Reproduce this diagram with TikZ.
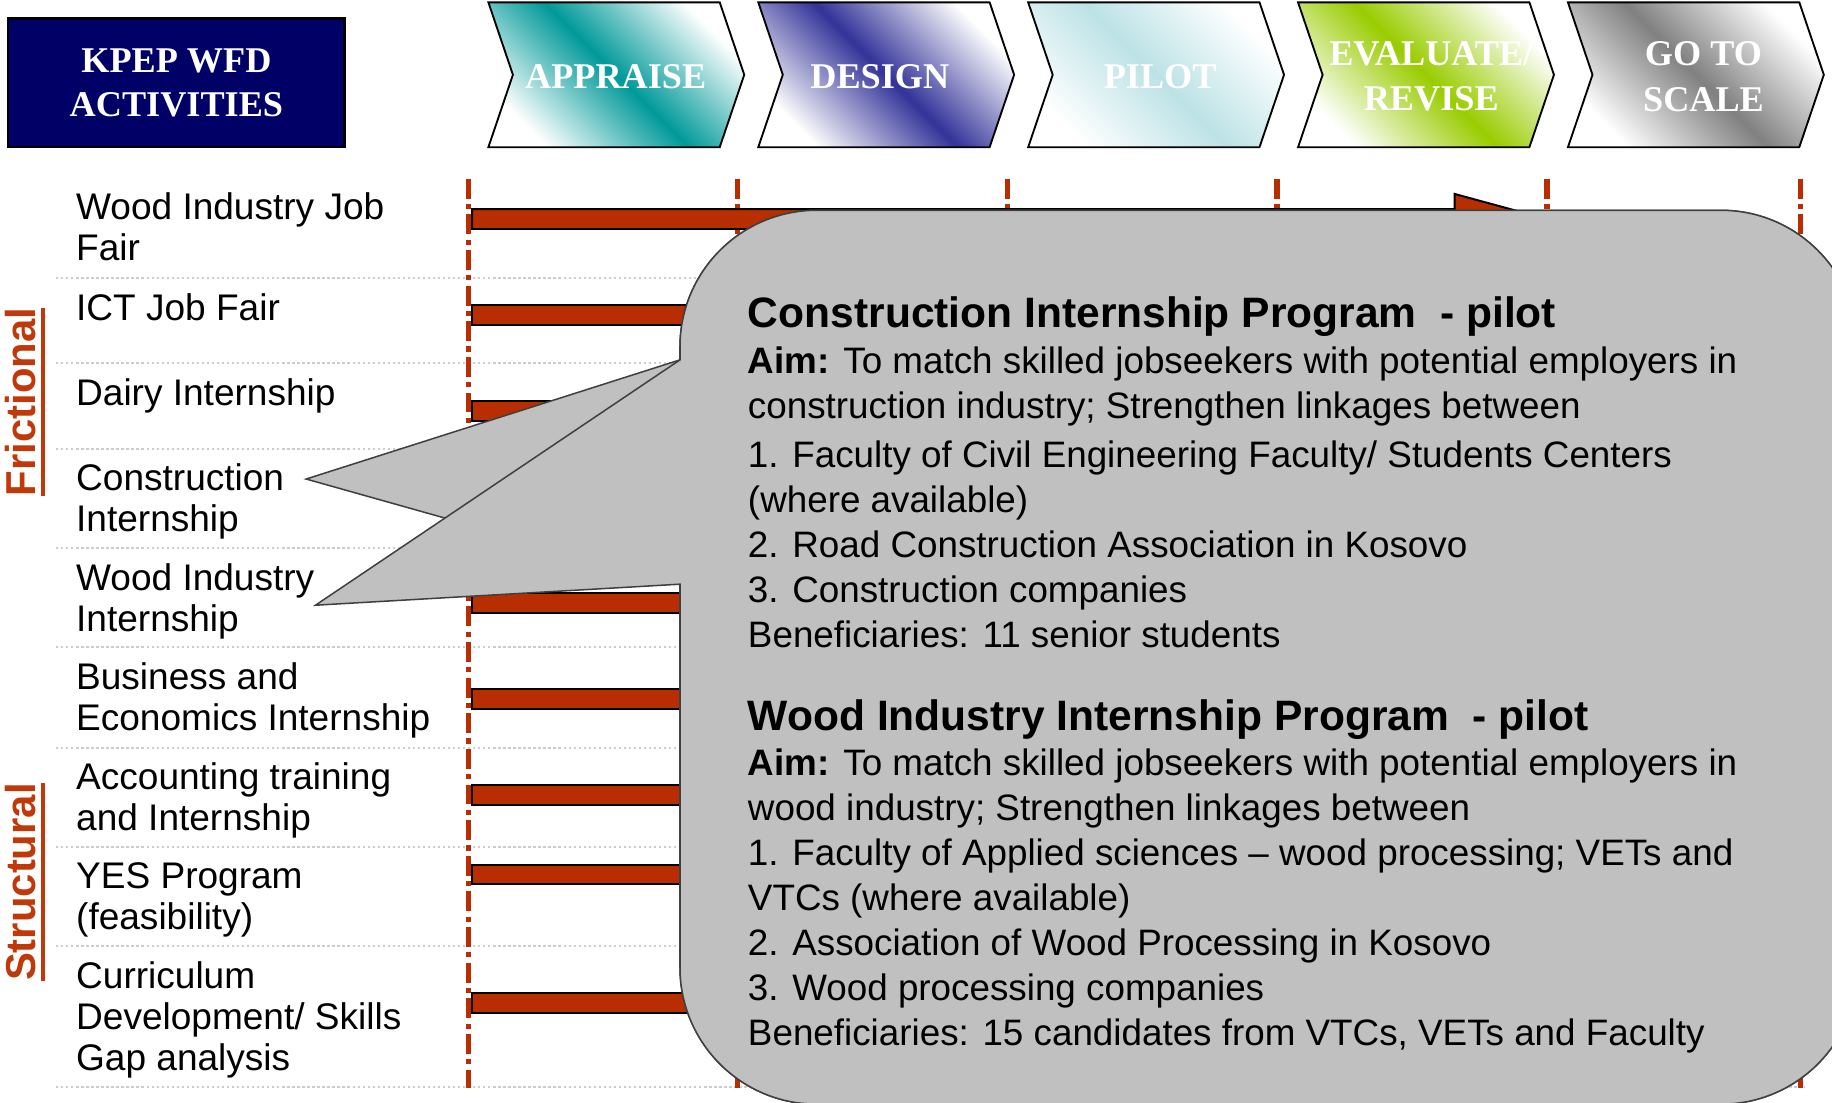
\documentclass[tikz,border=0pt]{standalone}
\usepackage{fontspec}
\setmainfont{Liberation Sans}
\newfontfamily\chevfont{Liberation Serif}
\usetikzlibrary{arrows}

\definecolor{kpepnavy}{RGB}{0,0,102}
\definecolor{barred}{RGB}{185,46,0}
\definecolor{fricred}{RGB}{191,57,10}
\definecolor{calloutgray}{RGB}{192,192,192}
\definecolor{calloutline}{RGB}{64,64,64}
\definecolor{sepgray}{RGB}{205,205,205}
\definecolor{appraisecol}{RGB}{0,153,153}
\definecolor{designcol}{RGB}{51,51,153}
\definecolor{pilotcol}{RGB}{188,226,230}
\definecolor{evalcol}{RGB}{153,204,0}
\definecolor{scalecol}{RGB}{128,128,128}

% rounded box with a wedge to the left, #1 = tip
\newcommand{\calloutpath}[1]{(582,308) -- (#1) -- (582,500) -- (582,828)
  arc[start angle=180, end angle=90, radius=117] -- (1473,945)
  arc[start angle=90, end angle=0, radius=117] -- (1590,297)
  arc[start angle=0, end angle=-90, radius=117] -- (699,180)
  arc[start angle=-90, end angle=-180, radius=117] -- cycle}

\begin{document}
\begin{tikzpicture}[x=1pt, y=-1pt]
  \tikzset{kpepbox/.style = {draw=black, line width=2.2pt, fill=kpepnavy,
             text=white, minimum width=288pt, minimum height=110pt,
             inner sep=0pt, align=center,
             font=\chevfont\bfseries\fontsize{31}{38}\selectfont}}
  \tikzset{chevron/.style = {draw=black, line width=1.6pt, top color=white,
             bottom color=white, shading angle=-45}}
  \tikzset{phase/.style = {text=white, inner sep=0pt, align=center,
             font=\chevfont\bfseries\fontsize{31}{39}\selectfont}}
  \tikzset{rowlabel/.style = {anchor=north west, inner sep=0pt, align=left,
             font=\fontsize{31.7}{35}\selectfont, execute at begin node=\strut}}
  \tikzset{grouplabel/.style = {rotate=90, anchor=base, inner sep=0pt,
             text=fricred, font=\bfseries\fontsize{35.8}{40}\selectfont}}
  \tikzset{groupline/.style = {draw=fricred, line width=3.7pt}}
  \tikzset{sepline/.style = {draw=sepgray, line width=1.8pt,
             dash pattern=on 2pt off 2.3pt}}
  \tikzset{phaseline/.style = {draw=barred, line width=4.5pt,
             dash pattern=on 17pt off 4.5pt on 4.5pt off 4.5pt}}
  \tikzset{bar/.style = {draw=black, line width=1.7pt, fill=barred}}
  \tikzset{callout/.style = {draw=calloutline, line width=1.3pt, fill=calloutgray}}
  \tikzset{callouttitle/.style = {anchor=base west, inner sep=0pt,
             font=\bfseries\fontsize{36.4}{40}\selectfont}}
  \tikzset{calloutbody/.style = {anchor=north west, inner sep=0pt, align=left,
             font=\fontsize{31.5}{38.5}\selectfont, execute at begin node=\strut}}

  \useasboundingbox (0,0) rectangle (1568,944);
  \clip (0,0) rectangle (1568,944);

  \node[kpepbox] (kpep) at (151,71) {KPEP WFD\\ACTIVITIES};

  % phases
  \foreach \l/\tx/\col/\n/\txt in {418/527/appraisecol/appraise/APPRAISE,
      649/753/designcol/design/DESIGN, 880/993/pilotcol/pilot/PILOT,
      1111/1225/evalcol/evaluate/{EVALUATE/\\REVISE},
      1342/1458/scalecol/goto/{GO TO\\SCALE}}
  {
    \draw[chevron, middle color=\col] (\l,2) -- ({\l+198},2) -- ({\l+219},64)
      -- ({\l+198},126) -- (\l,126) -- ({\l+21},64) -- cycle;
    \node[phase] (\n) at (\tx,65.5) {\txt};
  }

  \foreach \y in {238,311,384,469,554,640,725,810,930}
    \draw[sepline] (48,\y) -- (1545,\y);
  \foreach \x in {401,631,862,1093,1324,1541}
    \draw[phaseline] (\x,153) -- (\x,931);

  % activity bars
  \draw[bar] (404,179) -- (1245,179) -- (1245,166) -- (1324,187.5)
    -- (1245,209) -- (1245,196) -- (404,196) -- cycle;
  \foreach \y in {261,343,507.5,589.5,672,740,850}
    \draw[bar] (404,\y) rectangle (720,{\y+17});

  \node[rowlabel] (woodfair) at (65,165) {Wood Industry Job\\Fair};
  \node[rowlabel] (ictfair) at (65,250) {ICT Job Fair};
  \node[rowlabel] (dairy) at (65,322.5) {Dairy Internship};
  \node[rowlabel] (constr) at (65,397) {Construction\\Internship};
  \node[rowlabel] (woodint) at (65,482.5) {Wood Industry\\Internship};
  \node[rowlabel] (business) at (65,567) {Business and\\Economics Internship};
  \node[rowlabel] (account) at (65,652.5) {Accounting training\\and Internship};
  \node[rowlabel] (yes) at (65,738) {YES Program\\(feasibility)};
  \node[rowlabel] (curric) at (65,823) {Curriculum\\Development/ Skills\\Gap analysis};

  \node[grouplabel] (frictional) at (30,344) {Frictional};
  \draw[groupline] ([xshift=7pt]frictional.base west) -- ([xshift=7pt]frictional.base east);
  \node[grouplabel] (structural) at (30,755) {Structural};
  \draw[groupline] ([xshift=7pt]structural.base west) -- ([xshift=7pt]structural.base east);

  % callouts
  \coordinate (consttip) at (262,410);
  \coordinate (woodtip) at (270,518);
  \draw[callout] \calloutpath{consttip};
  \draw[callout] \calloutpath{woodtip};

  \node[callouttitle] (consttitle) at (640,280) {Construction Internship Program\ \ - pilot};
  \node[calloutbody] (consttext) at (640,296.4) {\textbf{Aim:} To match skilled jobseekers with potential employers in\\
    construction industry; Strengthen linkages between\\[4pt]
    1. Faculty of Civil Engineering Faculty/ Students Centers\\
    (where available)\\
    2. Road Construction Association in Kosovo\\
    3. Construction companies\\
    Beneficiaries: 11 senior students};

  \node[callouttitle] (woodtitle) at (640,625) {Wood Industry Internship Program\ \ - pilot};
  \node[calloutbody] (woodtext) at (640,641) {\textbf{Aim:} To match skilled jobseekers with potential employers in\\
    wood industry; Strengthen linkages between\\
    1. Faculty of Applied sciences – wood processing; VETs and\\
    VTCs (where available)\\
    2. Association of Wood Processing in Kosovo\\
    3. Wood processing companies\\
    Beneficiaries: 15 candidates from VTCs, VETs and Faculty};
\end{tikzpicture}
\end{document}
